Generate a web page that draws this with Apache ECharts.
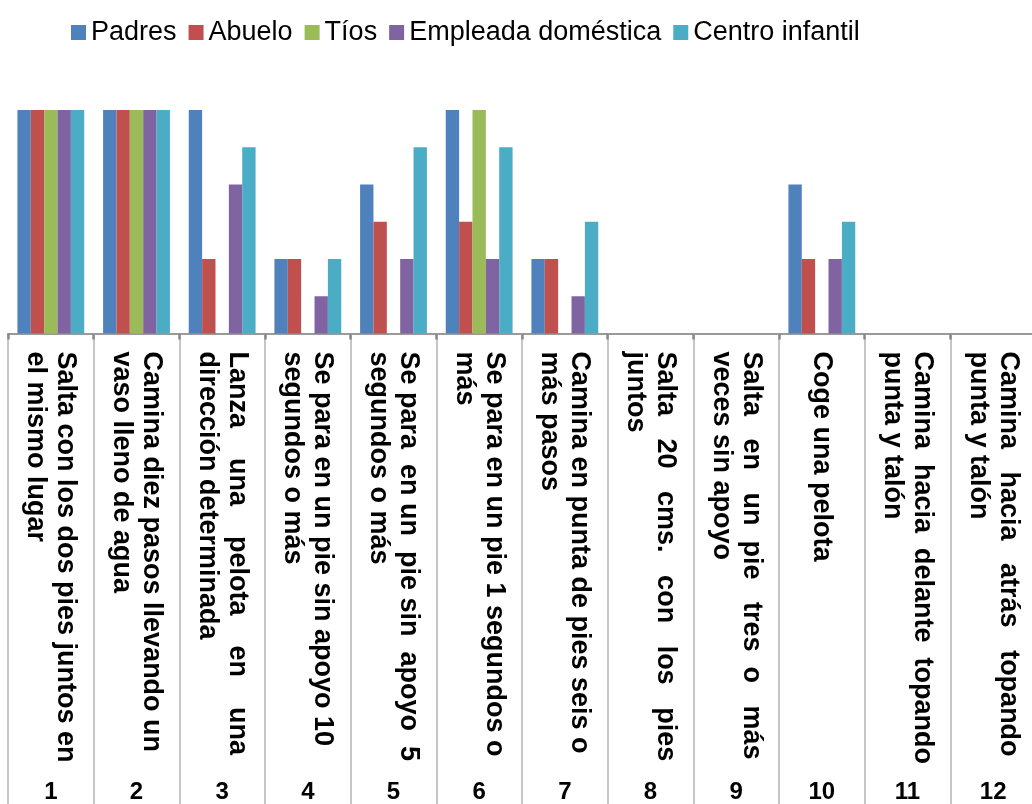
<!DOCTYPE html>
<html><head><meta charset="utf-8">
<script src="https://cdn.jsdelivr.net/npm/echarts@6/dist/echarts.min.js"></script>
<style>html,body{margin:0;padding:0;background:#fff}#c{width:1032px;height:804px}</style>
</head><body><div id="c"></div>
<script>
const categories = [
  'Salta con los dos pies juntos en\nel mismo lugar',
  'Camina diez pasos llevando un\nvaso lleno de agua',
  'Lanza    una    pelota    en    una\ndirección determinada',
  'Se para en un pie sin apoyo 10\nsegundos o más',
  'Se para  en un  pie sin  apoyo  5\nsegundos o más',
  'Se para en un pie 1 segundos o\nmás',
  'Camina en punta de pies seis o\nmás pasos',
  'Salta   20   cms.   con   los   pies\njuntos',
  'Salta   en   un  pie   tres  o   más\nveces sin apoyo',
  'Coge una pelota',
  'Camina  hacia  delante  topando\npunta y talón',
  'Camina   hacia   atrás   topando\npunta y talón'
];
const itemNumbers = ['1','2','3','4','5','6','7','8','9','10','11','12'];
const seriesNames = ['Padres', 'Abuelo', 'Tíos', 'Empleada doméstica', 'Centro infantil'];
const padres   = [6, 6, 6, 2, 4, 6, 2, 0, 0, 4, 0, 0];
const abuelo   = [6, 6, 2, 2, 3, 3, 2, 0, 0, 2, 0, 0];
const tios     = [6, 6, 0, 0, 0, 6, 0, 0, 0, 0, 0, 0];
const empleada = [6, 6, 4, 1, 2, 2, 1, 0, 0, 2, 0, 0];
const centro   = [6, 6, 5, 2, 5, 5, 3, 0, 0, 3, 0, 0];
const colors = ['#4F81BD', '#C0504D', '#9BBB59', '#8064A2', '#4BACC6'];

const FONT = "'Liberation Sans', Arial, sans-serif";
const values = [padres, abuelo, tios, empleada, centro];

const chart = echarts.init(document.getElementById('c'), null, {renderer: 'canvas'});
chart.setOption({
  animation: false,
  backgroundColor: '#fff',
  color: colors,
  legend: {
    left: 66, top: 14,
    itemWidth: 15, itemHeight: 15, itemGap: 12,
    icon: 'rect',
    textStyle: {fontSize: 27, color: '#000', fontFamily: FONT},
    data: seriesNames
  },
  grid: {left: 8, width: 1028, top: 110, bottom: 470.5, containLabel: false, outerBoundsMode: 'none'},
  xAxis: [{
    type: 'category',
    data: categories,
    position: 'bottom',
    axisLine: {show: true, lineStyle: {color: '#9a9a9a', width: 2}},
    axisTick: {show: true, length: 480, lineStyle: {color: '#b4b4b4', width: 1.5}},
    axisLabel: {
      interval: 0, rotate: -90, margin: 18, hideOverlap: false,
      fontSize: 27, fontWeight: 'bold', lineHeight: 30, color: '#000', fontFamily: FONT
    },
    splitLine: {show: false}
  }, {
    type: 'category',
    data: itemNumbers,
    position: 'bottom',
    offset: 0,
    axisLine: {show: false},
    axisTick: {show: true, length: 6, lineStyle: {color: '#8a8a8a', width: 2.5}},
    axisLabel: {interval: 0, margin: 447, fontSize: 24, fontWeight: 'bold', color: '#000', fontFamily: FONT},
    splitLine: {show: false}
  }],
  yAxis: {type: 'value', min: 0, max: 6, show: false, splitLine: {show: false}},
  series: seriesNames.map((n, i) => ({
    name: n, type: 'bar', xAxisIndex: 0, data: values[i],
    barGap: 0, barCategoryGap: '22%',
    itemStyle: {color: colors[i], borderWidth: 0}
  }))
});
</script>
</body></html>
